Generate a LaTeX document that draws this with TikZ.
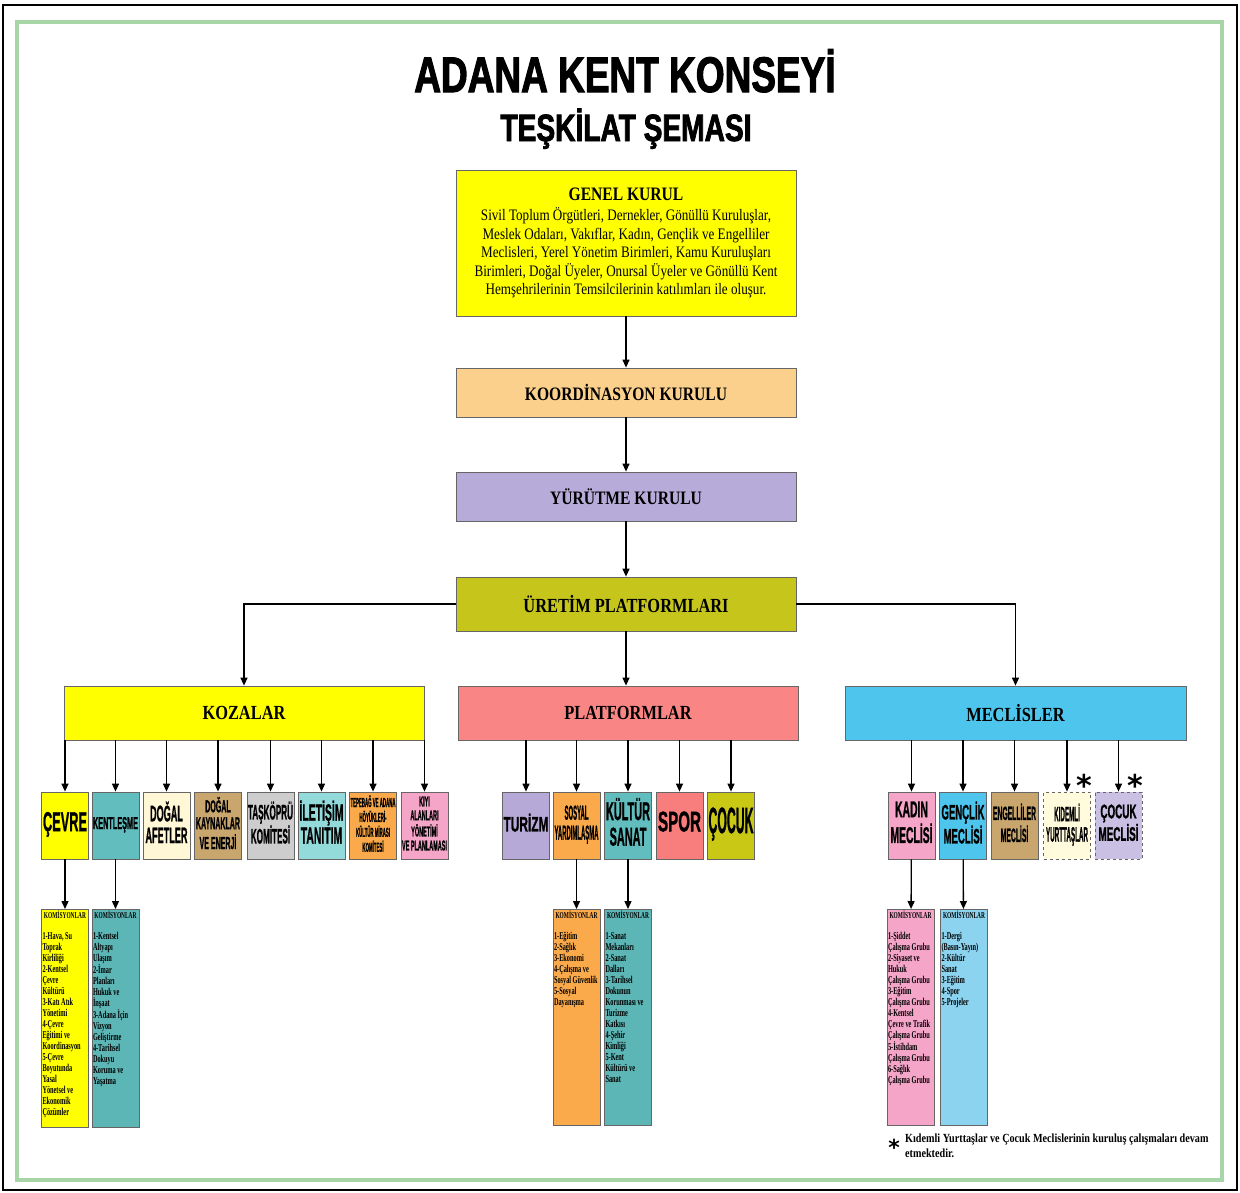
\documentclass[tikz,border=0pt]{standalone}
\usepackage{fontspec}
\usepackage{graphicx}
\usetikzlibrary{arrows.meta}
\setmainfont{Liberation Serif}
\newfontfamily\nserif{Liberation Serif}[FakeStretch=0.82]
\newfontfamily\kserif{Liberation Serif}[FakeStretch=0.6]
\newfontfamily\titlef{Liberation Sans}[FakeStretch=0.74, FakeBold=2]
\newfontfamily\impf{Liberation Sans}[FakeBold=1.5]
\newfontfamily\djv{DejaVu Sans}
\definecolor{cYel}{HTML}{FFFF00}
\definecolor{cKoord}{HTML}{FBD08C}
\definecolor{cYur}{HTML}{B7ABD9}
\definecolor{cUret}{HTML}{C6C51C}
\definecolor{cPlat}{HTML}{F98585}
\definecolor{cMec}{HTML}{4DC5EC}
\definecolor{cTeal}{HTML}{62BEBE}
\definecolor{cCream}{HTML}{FFF7D6}
\definecolor{cTan}{HTML}{C9A66E}
\definecolor{cGray}{HTML}{CDCDCD}
\definecolor{cLTeal}{HTML}{93DADA}
\definecolor{cOrange}{HTML}{FBAA4B}
\definecolor{cPink}{HTML}{F5A5C8}
\definecolor{cLav}{HTML}{B6A9D7}
\definecolor{cSalmon}{HTML}{F87E7E}
\definecolor{cOlive}{HTML}{C9C915}
\definecolor{cLBlue}{HTML}{8CD3EF}
\definecolor{cKTeal}{HTML}{5DB6B6}
\definecolor{cCream2}{HTML}{FFFBDC}
\definecolor{cLav2}{HTML}{C9C0E4}
\definecolor{cGreen}{HTML}{A8D5A8}
\newcommand{\fitt}[3]{\resizebox*{#1pt}{#2pt}{\impf\bfseries\renewcommand{\arraystretch}{0.8}\begin{tabular}{@{}c@{}}#3\end{tabular}}}
\newcommand{\kom}[2]{\parbox[t][#1pt][t]{45pt}{\centering{\kserif\bfseries\fontsize{9}{9}\selectfont KOMİSYONLAR\par}\vspace{10pt}\raggedright\kserif\bfseries\fontsize{10.5}{11}\selectfont #2}}
\begin{document}
\begin{tikzpicture}[x=1pt,y=-1pt,
 box/.style={draw=black!60, line width=0.8pt, inner sep=0pt},
 mainbox/.style={box, minimum width=340pt, minimum height=49pt, font=\nserif\bfseries\fontsize{19}{22}\selectfont},
 grpbox/.style={box, minimum height=54pt, font=\nserif\bfseries\fontsize{20}{22}\selectfont},
 sbox/.style={box, minimum width=47pt, minimum height=67pt},
 kbox/.style={box, inner sep=1pt, anchor=north},
 arr/.style={line width=1.3pt, -{Triangle[length=8pt,width=7pt]}},
 star/.style={font=\djv\bfseries\fontsize{30}{30}\selectfont, inner sep=0pt, anchor=base}
]
\useasboundingbox (0,0) rectangle (1240,1192);
\fill[white] (0,0) rectangle (1240,1192);
\draw[line width=2pt] (3,5) rectangle (1237,1190);
\draw[cGreen, line width=4pt] (17,22) rectangle (1222,1180);

% titles
\node[font=\titlef\bfseries\fontsize{50}{56}\selectfont, anchor=base, inner sep=0pt] (title) at (625,92) {ADANA KENT KONSEYİ};
\node[font=\titlef\bfseries\fontsize{38}{42}\selectfont, anchor=base, inner sep=0pt] (subtitle) at (626,141) {TEŞKİLAT ŞEMASI};

% main chain
\node[box, fill=cYel, minimum width=340pt, minimum height=146pt, align=center,
      font=\nserif\fontsize{16}{18.5}\selectfont] (genel) at (626,243)
 {{\nserif\bfseries\fontsize{19}{20}\selectfont GENEL KURUL}\\[2pt]
  Sivil Toplum Örgütleri, Dernekler, Gönüllü Kuruluşlar,\\
  Meslek Odaları, Vakıflar, Kadın, Gençlik ve Engelliler\\
  Meclisleri, Yerel Yönetim Birimleri, Kamu Kuruluşları\\
  Birimleri, Doğal Üyeler, Onursal Üyeler ve Gönüllü Kent\\
  Hemşehrilerinin Temsilcilerinin katılımları ile oluşur.};
\node[mainbox, fill=cKoord] (koord) at (626,392.5) {KOORDİNASYON KURULU};
\node[mainbox, fill=cYur] (yur) at (626,496.5) {YÜRÜTME KURULU};
\node[grpbox, fill=cUret, minimum width=340pt] (uret) at (626,604) {ÜRETİM PLATFORMLARI};

\draw[arr] (genel) -- (koord);
\draw[arr] (koord) -- (yur);
\draw[arr] (yur) -- (uret);

% groups
\node[grpbox, fill=cYel, minimum width=360pt] (kozalar) at (244,713) {KOZALAR};
\node[grpbox, fill=cPlat, minimum width=340pt] (platformlar) at (628,713) {PLATFORMLAR};
\node[grpbox, fill=cMec, minimum width=341pt] (meclisler) at (1015.5,713) {MECLİSLER};

\draw[arr] (uret.west) -| (kozalar.north);
\draw[arr] (uret.east) -| (meclisler.north);
\draw[arr] (uret.south) -- (uret.south |- platformlar.north);

% kozalar row
\node[sbox, fill=cYel] (cevre) at (65,825.5) {\fitt{44}{27}{ÇEVRE}};
\node[sbox, fill=cTeal] (kent) at (115.5,825.5) {\fitt{45}{17}{KENTLEŞME}};
\node[sbox, fill=cCream] (afet) at (166.5,825.5) {\fitt{42}{48}{DOĞAL\\AFETLER}};
\node[sbox, fill=cTan] (kaynak) at (218,825.5) {\fitt{44}{57}{DOĞAL\\KAYNAKLAR\\VE ENERJİ}};
\node[sbox, fill=cGray] (taskopru) at (270.5,825.5) {\fitt{45}{48}{TAŞKÖPRÜ\\KOMİTESİ}};
\node[sbox, fill=cLTeal] (iletisim) at (321.5,825.5) {\fitt{44}{50}{İLETİŞİM\\TANITIM}};
\node[sbox, fill=cOrange] (tepebag) at (373,825.5) {\fitt{45}{60}{TEPEBAĞ VE ADANA\\HÖYÜKLERİ-\\KÜLTÜR MİRASI\\KOMİTESİ}};
\node[sbox, fill=cPink] (kiyi) at (424.5,825.5) {\fitt{45}{58}{KIYI\\ALANLARI\\YÖNETİMİ\\VE PLANLAMASI}};
\foreach \n in {cevre,kent,afet,kaynak,taskopru,iletisim,tepebag,kiyi}
  \draw[arr] (\n.north |- kozalar.south) -- (\n.north);

% platformlar row
\node[sbox, fill=cLav] (turizm) at (526,825.5) {\fitt{45}{24}{TURİZM}};
\node[sbox, fill=cOrange] (sosyal) at (576.5,825.5) {\fitt{44}{40}{SOSYAL\\YARDIMLAŞMA}};
\node[sbox, fill=cTeal] (kultur) at (628,825.5) {\fitt{44}{55}{KÜLTÜR\\SANAT}};
\node[sbox, fill=cSalmon] (spor) at (679.5,825.5) {\fitt{43}{28}{SPOR}};
\node[sbox, fill=cOlive] (cocuk) at (731,825.5) {\fitt{45}{36}{ÇOCUK}};
\foreach \n in {turizm,sosyal,kultur,spor,cocuk}
  \draw[arr] (\n.north |- platformlar.south) -- (\n.north);

% meclisler row
\node[sbox, fill=cPink] (kadin) at (911.5,825.5) {\fitt{42}{48}{KADIN\\MECLİSİ}};
\node[sbox, fill=cMec] (genclik) at (963,825.5) {\fitt{43}{48}{GENÇLİK\\MECLİSİ}};
\node[sbox, fill=cTan] (engel) at (1014.5,825.5) {\fitt{43}{44}{ENGELLİLER\\MECLİSİ}};
\node[sbox, fill=cCream2, dashed] (kidemli) at (1067,825.5) {\fitt{42}{44}{KIDEMLİ\\YURTTAŞLAR}};
\node[sbox, fill=cLav2, dashed] (cmeclis) at (1118.5,825.5) {\fitt{40}{42}{ÇOCUK\\MECLİSİ}};
\foreach \n in {kadin,genclik,engel,kidemli,cmeclis}
  \draw[arr] (\n.north |- meclisler.south) -- (\n.north);
\node[star] (st1) at (1084,796) {*};
\node[star] (st2) at (1135,796) {*};

% commissions
\node[kbox, fill=cYel] (cevrek) at (65,909) {\kom{216}{1-Hava, Su\\Toprak\\Kirliliği\\2-Kentsel\\Çevre\\Kültürü\\3-Katı Atık\\Yönetimi\\4-Çevre\\Eğitimi ve\\Koordinasyon\\5-Çevre\\Boyutunda\\Yasal\\Yönetsel ve\\Ekonomik\\Çözümler}};
\node[kbox, fill=cKTeal] (kentk) at (115.5,909) {\kom{216}{1-Kentsel\\Altyapı\\Ulaşım\\2-İmar\\Planları\\Hukuk ve\\İnşaat\\3-Adana İçin\\Vizyon\\Geliştirme\\4-Tarihsel\\Dokuyu\\Koruma ve\\Yaşatma}};
\node[kbox, fill=cOrange] (sosyalk) at (576.5,909) {\kom{214}{1-Eğitim\\2-Sağlık\\3-Ekonomi\\4-Çalışma ve\\Sosyal Güvenlik\\5-Sosyal\\Dayanışma}};
\node[kbox, fill=cKTeal] (kulturk) at (628,909) {\kom{214}{1-Sanat\\Mekanları\\2-Sanat\\Dalları\\3-Tarihsel\\Dokunun\\Korunması ve\\Turizme\\Katkısı\\4-Şehir\\Kimliği\\5-Kent\\Kültürü ve\\Sanat}};
\node[kbox, fill=cPink] (kadink) at (910.5,909) {\kom{214}{1-Şiddet\\Çalışma Grubu\\2-Siyaset ve\\Hukuk\\Çalışma Grubu\\3-Eğitim\\Çalışma Grubu\\4-Kentsel\\Çevre ve Trafik\\Çalışma Grubu\\5-İstihdam\\Çalışma Grubu\\6-Sağlık\\Çalışma Grubu}};
\node[kbox, fill=cLBlue] (genclikk) at (964,909) {\kom{214}{1-Dergi\\(Basın-Yayın)\\2-Kültür\\Sanat\\3-Eğitim\\4-Spor\\5-Projeler}};
\draw[arr] (cevre) -- (cevrek);
\draw[arr] (kent) -- (kentk);
\draw[arr] (sosyal) -- (sosyalk);
\draw[arr] (kultur) -- (kulturk);
\draw[arr] (kadin) -- (kadink);
\draw[arr] (genclik) -- (genclikk);

% footnote
\node[star, font=\djv\bfseries\fontsize{22}{22}\selectfont] (fnstar) at (894,1155) {*};
\node[anchor=north west, align=left, inner sep=0pt, font=\nserif\bfseries\fontsize{12.4}{15}\selectfont] (fn) at (905,1134)
 {Kıdemli Yurttaşlar ve Çocuk Meclislerinin kuruluş çalışmaları devam\\etmektedir.};
\end{tikzpicture}
\end{document}
